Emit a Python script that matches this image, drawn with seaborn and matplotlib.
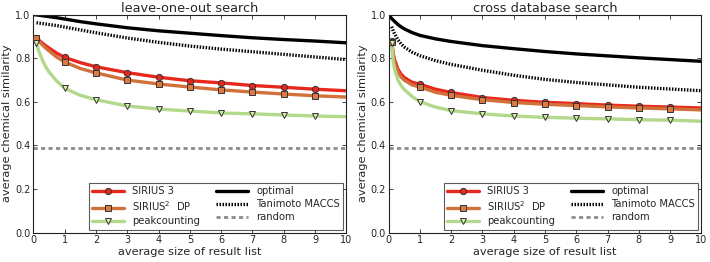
import numpy as np
import matplotlib
matplotlib.use("Agg")
import matplotlib.pyplot as plt
from matplotlib.lines import Line2D
import seaborn as sns

# x grid of the curves, markers sit at these indices
x_grid = [0.1, 0.15, 0.2, 0.3, 0.4, 0.5, 0.75, 1, 1.5, 2, 3, 4, 5, 6, 7, 8, 9, 10]
x_ref = [0] + x_grid
mark_idx = [0, 7, 9, 10, 11, 12, 13, 14, 15, 16]

# leave-one-out search
loo_sirius3 = [0.894, 0.887, 0.880, 0.868, 0.857, 0.847, 0.823, 0.804, 0.780, 0.761,
               0.734, 0.713, 0.697, 0.687, 0.675, 0.667, 0.658, 0.651]
loo_dp = [0.892, 0.883, 0.874, 0.860, 0.846, 0.834, 0.805, 0.783, 0.753, 0.733,
          0.700, 0.682, 0.668, 0.655, 0.645, 0.636, 0.628, 0.622]
loo_peak = [0.868, 0.843, 0.823, 0.788, 0.760, 0.737, 0.695, 0.662, 0.630, 0.610,
            0.581, 0.567, 0.558, 0.549, 0.545, 0.540, 0.535, 0.532]
loo_optimal = [1.0, 0.999, 0.998, 0.997, 0.995, 0.993, 0.991, 0.986, 0.980, 0.968, 0.958,
               0.940, 0.926, 0.915, 0.904, 0.894, 0.886, 0.879, 0.871]
loo_tanimoto = [0.963, 0.962, 0.961, 0.959, 0.957, 0.955, 0.950, 0.943, 0.930, 0.917,
                0.893, 0.873, 0.856, 0.842, 0.830, 0.818, 0.806, 0.794]

# cross database search
cross_sirius3 = [0.877, 0.820, 0.790, 0.750, 0.727, 0.712, 0.690, 0.681, 0.658, 0.643,
                 0.620, 0.607, 0.598, 0.592, 0.585, 0.580, 0.576, 0.572]
cross_dp = [0.876, 0.808, 0.776, 0.737, 0.714, 0.700, 0.678, 0.668, 0.644, 0.630,
            0.610, 0.597, 0.589, 0.583, 0.577, 0.572, 0.568, 0.563]
cross_peak = [0.869, 0.780, 0.745, 0.700, 0.675, 0.657, 0.625, 0.601, 0.576, 0.560,
              0.545, 0.535, 0.529, 0.525, 0.522, 0.518, 0.516, 0.511]
cross_optimal = [1.0, 0.982, 0.975, 0.968, 0.955, 0.944, 0.935, 0.918, 0.905, 0.889, 0.877,
                 0.858, 0.844, 0.831, 0.820, 0.811, 0.802, 0.794, 0.786]
cross_tanimoto = [0.945, 0.925, 0.910, 0.885, 0.866, 0.852, 0.828, 0.812, 0.789, 0.772,
                  0.745, 0.722, 0.703, 0.689, 0.678, 0.667, 0.659, 0.651]

random_sim = 0.39

titles = ["leave-one-out search", "cross database search"]
method_names = ["SIRIUS 3", "SIRIUS$^2$  DP", "peakcounting"]
ref_names = ["optimal", "Tanimoto MACCS", "random"]

c_red = "#e8281c"
c_orange = "#d2703a"
c_green = "#b2d98a"
face = ["#e8281c", "#dc7a40", "#dcebb0"]
markers = ["o", "s", "v"]
colors = [c_red, c_orange, c_green]
dotted = (0, (0.45, 0.45))
dashed = (0, (1.5, 1.2))

sns.set_style("ticks", {"xtick.direction": "in", "ytick.direction": "in"})
plt.rcParams["font.family"] = ["DejaVu Sans"]

fig, axes = plt.subplots(1, 2, figsize=(7.1, 2.62), dpi=100)
fig.subplots_adjust(left=0.047, right=0.988, bottom=0.112, top=0.944, wspace=0.135)

panels = [
    (loo_sirius3, loo_dp, loo_peak, loo_optimal, loo_tanimoto),
    (cross_sirius3, cross_dp, cross_peak, cross_optimal, cross_tanimoto),
]

xg = np.array(x_grid)
for ax, title, data in zip(axes, titles, panels):
    s3, dp, pk, opt, tan = data
    sns.lineplot(x=x_ref, y=opt, ax=ax, color="black", lw=2.4, sort=False)
    sns.lineplot(x=x_grid, y=tan, ax=ax, color="black", lw=2.4, ls=dotted, sort=False)
    ax.axhline(random_sim, color="#8c8c8c", lw=2.0, ls=dashed)
    for vals, col, fc, mk in zip([s3, dp, pk], colors, face, markers):
        sns.lineplot(x=x_grid, y=vals, ax=ax, color=col, lw=2.4, sort=False)
        v = np.array(vals)
        ax.plot(xg[mark_idx], v[mark_idx], ls="none", marker=mk, ms=4.5,
                mfc=fc, mec="#333333", mew=0.7, zorder=5)

    ax.set_xlim(0, 10)
    ax.set_ylim(0, 1.0)
    ax.set_xticks(range(0, 11))
    ax.set_yticks([0, 0.2, 0.4, 0.6, 0.8, 1.0])
    ax.set_yticklabels(["0.0", "0.2", "0.4", "0.6", "0.8", "1.0"])
    ax.tick_params(top=True, right=True, labelsize=7, length=3, width=0.6, pad=2)
    for sp in ax.spines.values():
        sp.set_linewidth(0.8)
        sp.set_color("#222222")
    ax.set_title(title, fontsize=9.3, pad=2)
    ax.set_xlabel("average size of result list", fontsize=8.2, labelpad=1)
    ax.set_ylabel("average chemical similarity", fontsize=8.2, labelpad=2)

    handles = [
        Line2D([], [], color=c_red, lw=2.4, marker="o", ms=4.5, mfc=face[0], mec="#333333", mew=0.7),
        Line2D([], [], color=c_orange, lw=2.4, marker="s", ms=4.5, mfc=face[1], mec="#333333", mew=0.7),
        Line2D([], [], color=c_green, lw=2.4, marker="v", ms=4.5, mfc=face[2], mec="#333333", mew=0.7),
        Line2D([], [], color="black", lw=2.4),
        Line2D([], [], color="black", lw=2.4, ls=dotted),
        Line2D([], [], color="#8c8c8c", lw=2.0, ls=dashed),
    ]
    leg = ax.legend(handles, method_names + ref_names, ncol=2, loc="lower right",
                    fontsize=7.2, frameon=True, fancybox=False, handlelength=3.2,
                    numpoints=1, borderaxespad=0.3, labelspacing=0.3,
                    columnspacing=1.6, handletextpad=0.8, borderpad=0.35)
    leg.get_frame().set_edgecolor("#333333")
    leg.get_frame().set_linewidth(0.8)

fig.savefig("out.png", dpi=100)
